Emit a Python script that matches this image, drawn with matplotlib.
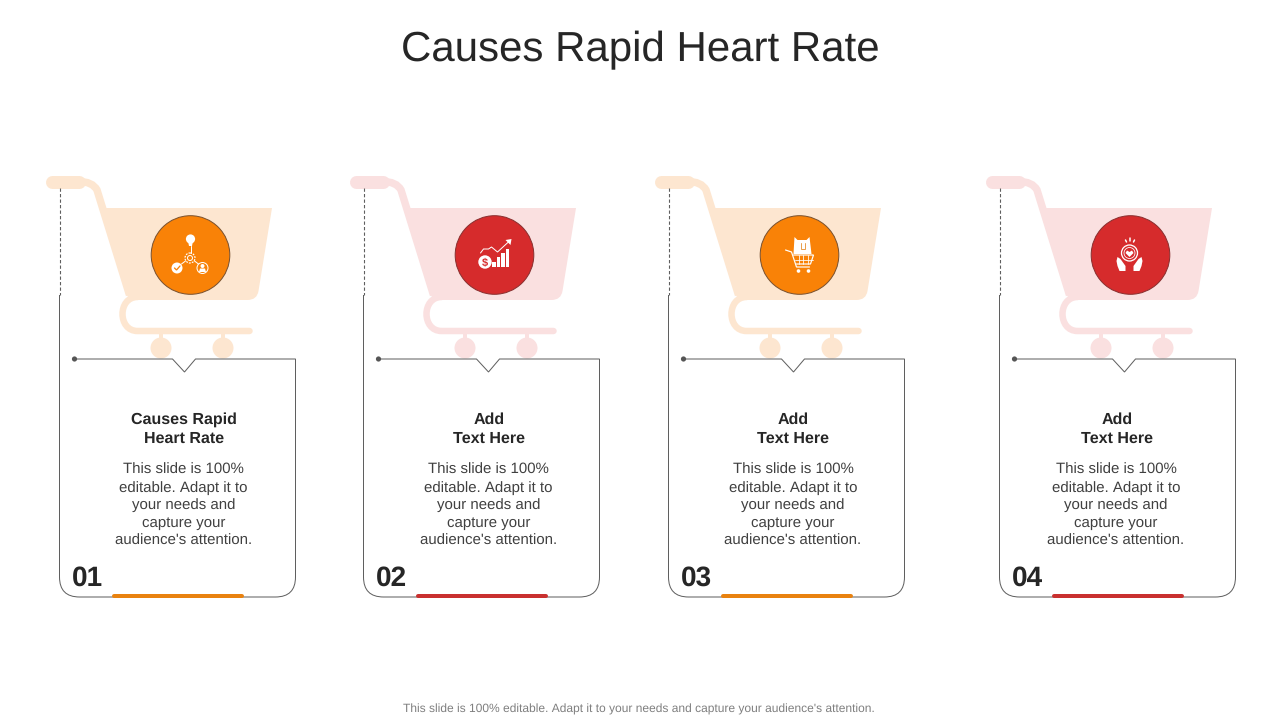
import matplotlib
matplotlib.use('Agg')
import matplotlib.pyplot as plt
from matplotlib.patches import Circle, PathPatch, Polygon
from matplotlib.path import Path

plt.rcParams['font.family'] = ['Liberation Sans', 'DejaVu Sans']
plt.rcParams['text.hinting'] = 'no_hinting'
plt.rcParams['text.hinting_factor'] = 1

title = 'Causes Rapid Heart Rate'
footer = "This slide is 100% editable. Adapt it to your needs and capture your audience's attention."
numbers = ['01', '02', '03', '04']
headings = [['Causes Rapid', 'Heart Rate'], ['Add', 'Text Here'], ['Add', 'Text Here'], ['Add', 'Text Here']]
body_lines = ['This slide is 100%', 'editable. Adapt it to', 'your needs and', 'capture your', "audience's attention."]
themes = ['orange', 'red', 'orange', 'red']

# layout, all in pixels of the slide
card_left = [59.5, 363.5, 668.5, 999.5]
text_center = [183.5, 488.5, 793, 1116]
heading_center = [184, 489, 793, 1117]
body_y = [469, 487, 504, 522, 540]
heading_y = [418, 437]

fill = {'orange': '#F98207', 'red': '#D62B2C'}
pale = {'orange': '#FDE6D0', 'red': '#FAE0E0'}
accent = {'orange': '#E9820F', 'red': '#C9302F'}
LINE = '#5F5F5F'


def px(w):
    return w * 0.72


fig = plt.figure(figsize=(12.8, 7.2), dpi=100)
ax = fig.add_axes([0, 0, 1, 1])
ax.set_xlim(0, 1280)
ax.set_ylim(720, 0)
ax.axis('off')


def stroke(points, codes=None, color=LINE, w=1.0, cap='round', z=2, ls='-'):
    if codes is None:
        codes = [Path.MOVETO] + [Path.LINETO] * (len(points) - 1)
    p = PathPatch(Path(points, codes), fc='none', ec=color, lw=px(w), ls=ls, zorder=z)
    p.set_capstyle(cap)
    ax.add_patch(p)


def cart(x, color):
    M, L, Q, C = Path.MOVETO, Path.LINETO, Path.CURVE3, Path.CURVE4
    # basket
    pts = [(x + 42, 208), (x + 212.5, 208), (x + 199, 291), (x + 197.5, 300), (x + 188, 300),
           (x + 76, 300), (x + 69, 300), (x + 67, 294), (x + 42, 208)]
    cds = [M, L, L, Q, Q, L, Q, Q, L]
    ax.add_patch(PathPatch(Path(pts, cds), fc=color, ec='none', zorder=1))
    # handle grip and bar down to the basket
    stroke([(x - 8, 181.5), (x + 19, 181.5)], color=color, w=13, z=1)
    stroke([(x + 19, 181.5), (x + 33, 181.5), (x + 37.5, 190), (x + 70, 295)],
           [M, Q, Q, L], color=color, w=7.5, z=1, cap='butt')
    # lower frame
    stroke([(x + 78, 297), (x + 58, 297), (x + 58, 331), (x + 78, 331), (x + 190, 331)],
           [M, C, C, C, L], color=color, w=6.5, z=1)
    # wheels
    for wx in (x + 101.5, x + 163.5):
        stroke([(wx, 331), (wx, 342)], color=color, w=4, z=1)
        ax.add_patch(Circle((wx, 348), 10.5, fc=color, ec='none', zorder=1))


def frame(x, color):
    stroke([(x, 188), (x, 295)], color=LINE, w=1.1, ls=(0, (3, 2)), cap='butt')
    M, L, Q = Path.MOVETO, Path.LINETO, Path.CURVE3
    r = 20
    pts = [(x, 295), (x, 597 - r), (x, 597), (x + r, 597), (x + 236 - r, 597), (x + 236, 597),
           (x + 236, 597 - r), (x + 236, 359), (x + 136, 359), (x + 125, 372), (x + 113, 359), (x + 15, 359)]
    cds = [M, L, Q, Q, L, Q, Q, L, L, L, L, L]
    stroke(pts, cds, color=LINE, w=1, cap='butt')
    ax.add_patch(Circle((x + 15, 359), 2.6, fc='#555555', ec='none', zorder=3))
    stroke([(x + 54, 596), (x + 182, 596)], color=color, w=4, z=3)


def icon_network(cx, cy, c):
    w = 'white'
    ax.add_patch(Circle((cx, cy - 16), 4.6, fc=w, ec='none', zorder=5))
    ax.add_patch(Polygon([(cx - 2.5, cy - 14), (cx + 2.5, cy - 14), (cx + 1.5, cy - 9), (cx - 1.5, cy - 9)], fc=w, ec='none', zorder=5))
    stroke([(cx, cy - 9), (cx, cy - 2)], color=w, w=1, z=5)
    ax.add_patch(Circle((cx - 0.5, cy + 3), 5, fc='none', ec=w, lw=px(1.2), ls=(0, (1.5, 1)), zorder=5))
    ax.add_patch(Circle((cx - 0.5, cy + 3), 2.5, fc='none', ec=w, lw=px(1), zorder=5))
    stroke([(cx - 9, cy + 9), (cx - 5, cy + 6)], color=w, w=1, z=5)
    stroke([(cx + 8, cy + 9), (cx + 4, cy + 6)], color=w, w=1, z=5)
    ax.add_patch(Circle((cx - 13.5, cy + 13), 5.5, fc=w, ec='none', zorder=5))
    stroke([(cx - 16, cy + 13), (cx - 14, cy + 15), (cx - 10.5, cy + 11)], color=c, w=1.3, z=6)
    ax.add_patch(Circle((cx + 12, cy + 13), 5.5, fc=c, ec=w, lw=px(1), zorder=5))
    ax.add_patch(Circle((cx + 12, cy + 11), 2, fc=w, ec='none', zorder=6))
    ax.add_patch(Polygon([(cx + 8.5, cy + 17), (cx + 9.5, cy + 13.5), (cx + 14.5, cy + 13.5), (cx + 15.5, cy + 17)], fc=w, ec='none', zorder=6))


def icon_growth(cx, cy, c):
    w = 'white'
    ax.add_patch(Circle((cx - 9.5, cy + 7), 6.7, fc=w, ec='none', zorder=5))
    ax.text(cx - 9.5, cy + 7.5, '$', color=c, fontsize=8, fontweight='bold', ha='center', va='center', zorder=6)
    for bx, top in zip((cx - 2.5, cx + 2, cx + 6.5, cx + 11), (cy + 7, cy + 2, cy - 2, cy - 6)):
        ax.add_patch(Polygon([(bx, cy + 12), (bx + 3.6, cy + 12), (bx + 3.6, top), (bx, top)], fc=w, ec='none', zorder=5))
    stroke([(cx - 14, cy - 2), (cx - 11, cy - 6), (cx - 6, cy - 6), (cx - 3, cy - 8), (cx + 3, cy - 3),
            (cx + 15, cy - 14)], color=w, w=1, z=5)
    ax.add_patch(Polygon([(cx + 17, cy - 16), (cx + 11, cy - 15), (cx + 16, cy - 10)], fc=w, ec='none', zorder=5))


def icon_trolley(cx, cy, c):
    w = 'white'
    ax.add_patch(Polygon([(cx - 5, cy - 18), (cx - 2, cy - 15), (cx + 7, cy - 15), (cx + 10, cy - 18),
                          (cx + 12, cy - 1), (cx - 6, cy - 1)], fc=w, ec='none', zorder=5))
    stroke([(cx + 1, cy - 12), (cx + 1, cy - 6), (cx + 5, cy - 6), (cx + 5, cy - 12)], color='#E9A050', w=1, z=6)
    stroke([(cx - 14, cy - 5), (cx - 8, cy - 3), (cx - 3, cy + 12), (cx + 10, cy + 12)], color=w, w=1.2, z=5)
    stroke([(cx - 6, cy), (cx + 14, cy), (cx + 11, cy + 9), (cx - 3, cy + 9)], color=w, w=1.2, z=5)
    for gx in (cx - 1, cx + 3.5, cx + 8):
        stroke([(gx, cy), (gx, cy + 9)], color=w, w=0.8, z=5)
    stroke([(cx - 5, cy + 4.5), (cx + 13, cy + 4.5)], color=w, w=0.8, z=5)
    for wx in (cx - 1, cx + 9):
        ax.add_patch(Circle((wx, cy + 16), 1.8, fc=w, ec='none', zorder=5))


def icon_care(cx, cy, c):
    w = 'white'
    ax.add_patch(Circle((cx - 1, cy - 2), 8, fc='none', ec=w, lw=px(1.3), zorder=5))
    ax.add_patch(Circle((cx - 1, cy - 2), 5.5, fc='none', ec=w, lw=px(0.8), zorder=5))
    heart = [(cx - 1, cy + 2), (cx - 5, cy - 2), (cx - 3.5, cy - 4.5), (cx - 1, cy - 3), (cx + 1.5, cy - 4.5), (cx + 3, cy - 2)]
    ax.add_patch(Polygon(heart, fc=w, ec='none', zorder=6))
    stroke([(cx - 5, cy - 15), (cx - 4, cy - 13)], color=w, w=1.5, z=5)
    stroke([(cx - 1, cy - 17), (cx - 1, cy - 14)], color=w, w=1.5, z=5)
    stroke([(cx + 4, cy - 15), (cx + 3, cy - 13)], color=w, w=1.5, z=5)
    for sgn in (-1, 1):
        hand = [(cx - 1 + sgn * 12, cy + 2), (cx - 1 + sgn * 9, cy + 4), (cx - 1 + sgn * 4, cy + 11),
                (cx - 1 + sgn * 4, cy + 16), (cx - 1 + sgn * 10, cy + 16), (cx - 1 + sgn * 12, cy + 11), (cx - 1 + sgn * 13, cy + 6)]
        ax.add_patch(Polygon(hand, fc=w, ec='none', zorder=5))


icons = [icon_network, icon_growth, icon_trolley, icon_care]

for i, x in enumerate(card_left):
    t = themes[i]
    cart(x, pale[t])
    frame(x, accent[t])
    cx, cy = x + 131, 255
    ax.add_patch(Circle((cx, cy), 39.3, fc=fill[t], ec='#7A5230' if t == 'orange' else '#8A3030', lw=px(1), zorder=3))
    icons[i](cx, cy, fill[t])
    for line, y in zip(headings[i], heading_y):
        ax.text(heading_center[i], y + 5.5, line, fontsize=11.6, fontweight='bold', color='#262626', ha='center', va='baseline', zorder=4)
    for line, y in zip(body_lines, body_y):
        ax.text(text_center[i], y + 4.8, line, fontsize=10.45, color='#404040', ha='center', va='baseline', zorder=4)
    ax.text(x + 12.5, 585.5, numbers[i], fontsize=20, fontweight='bold', color='#262626', ha='left', va='baseline', zorder=4)

ax.text(640, 61.5, title, fontsize=30.5, color='#262626', ha='center', va='baseline')
ax.text(639, 713, footer, fontsize=8.74, color='#7F7F7F', ha='center', va='baseline')

fig.savefig('out.png', dpi=100)
